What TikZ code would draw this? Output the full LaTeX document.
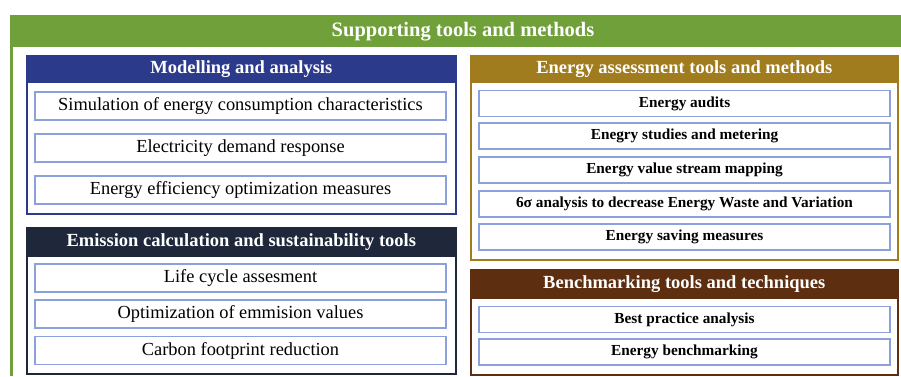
\documentclass[tikz,border=0pt]{standalone}
\usepackage{fontspec}
\setmainfont{Liberation Serif}

\definecolor{supgreen}{RGB}{112,160,58}
\definecolor{modblue}{RGB}{44,58,140}
\definecolor{emidark}{RGB}{30,40,58}
\definecolor{assgold}{RGB}{160,124,30}
\definecolor{benbrown}{RGB}{94,46,16}
\definecolor{itemblue}{RGB}{140,160,220}

\tikzset{
    panel/.style={draw=#1, line width=1.6pt, fill=white, anchor=north west, inner sep=0pt},
    head/.style={fill=#1, text=white, anchor=north, inner sep=0pt, font=\fontsize{18.5}{20}\bfseries\selectfont},
    itembox/.style={draw=itemblue, line width=1.2pt, fill=white, minimum width=411pt, inner sep=0pt},
    leftitem/.style={itembox, minimum height=28pt, font=\fontsize{18.4}{20}\selectfont},
    rightitem/.style={itembox, minimum height=26pt, font=\fontsize{15.3}{17}\bfseries\selectfont},
}

\begin{document}
\begin{tikzpicture}[x=1pt, y=-1pt]

    \useasboundingbox (0,0) rectangle (901,376);

    % outer frame
    \fill [supgreen] (10,15) rectangle (901,47);
    \draw [supgreen, line width=3pt] (11.5,47) -- (11.5,376);
    \node [text=white, font=\fontsize{20.5}{22}\bfseries\selectfont] (title) at (463,31.5) {Supporting tools and methods};

    % panels
    \node [panel=modblue, minimum width=429pt, minimum height=158pt] (model) at (26,55) {};
    \node [panel=emidark, minimum width=429pt, minimum height=146pt] (emis) at (26,227) {};
    \node [panel=assgold, minimum width=427pt, minimum height=204pt] (assess) at (470,55) {};
    \node [panel=benbrown, minimum width=427pt, minimum height=105pt] (bench) at (470,269) {};

    % headers
    \node [head=modblue, minimum width=429pt, minimum height=28pt] (modelhead) at (model.north) {Modelling and analysis};
    \node [head=emidark, minimum width=429pt, minimum height=30pt] (emishead) at (emis.north) {Emission calculation and sustainability tools};
    \node [head=assgold, minimum width=427pt, minimum height=28pt] (assesshead) at (assess.north) {Energy assessment tools and methods};
    \node [head=benbrown, minimum width=427pt, minimum height=30pt] (benchhead) at (bench.north) {Benchmarking tools and techniques};

    % items, left
    \foreach \y/\t [count=\i] in {106/Simulation of energy consumption characteristics,
                                 148/Electricity demand response,
                                 190/Energy efficiency optimization measures}
        \node [leftitem] (model\i) at (240.5,\y) {\t};
    \foreach \y/\t [count=\i] in {278/Life cycle assesment,
                                 314/Optimization of emmision values,
                                 350.5/Carbon footprint reduction}
        \node [leftitem] (emis\i) at (240.5,\y) {\t};

    % items, right
    \foreach \y/\t [count=\i] in {103.5/Energy audits,
                                 136/Enegry studies and metering,
                                 170/Energy value stream mapping,
                                 204/6σ analysis to decrease Energy Waste and Variation,
                                 237/Energy saving measures}
        \node [rightitem] (assess\i) at (684.5,\y) {\t};
    \foreach \y/\t [count=\i] in {319.5/Best practice analysis,
                                 352/Energy benchmarking}
        \node [rightitem] (bench\i) at (684.5,\y) {\t};

\end{tikzpicture}
\end{document}
